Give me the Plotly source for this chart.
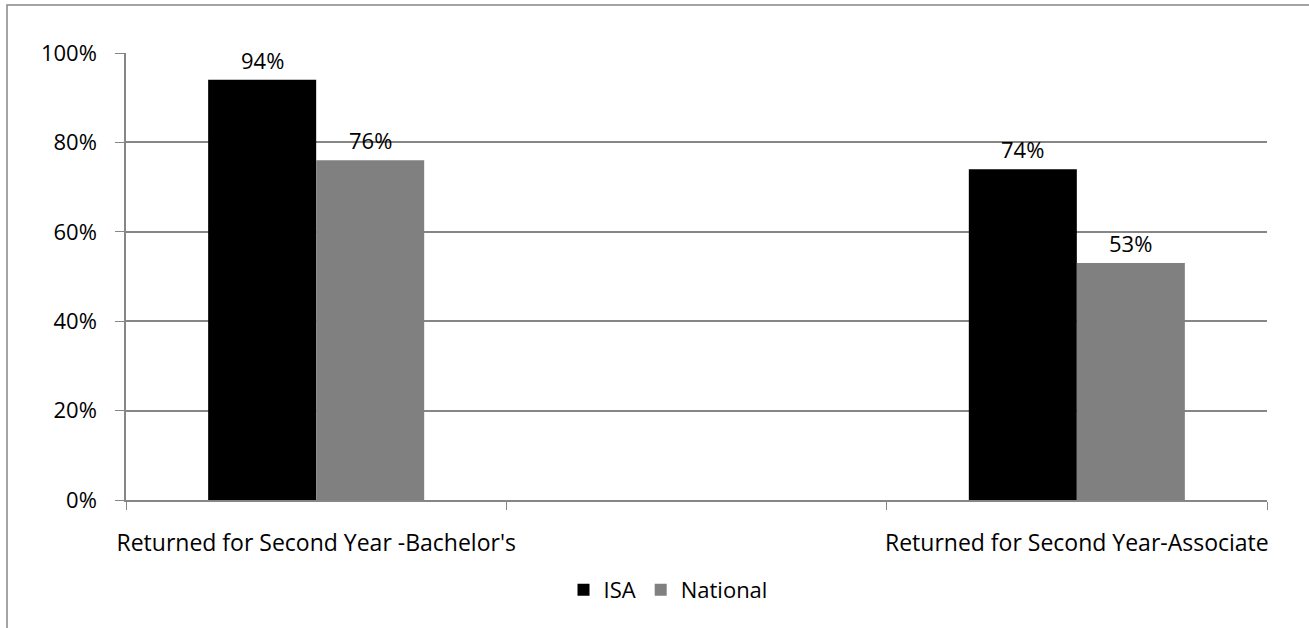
import plotly.graph_objects as go

categories = ["Returned for Second Year -Bachelor's", " ", "Returned for Second Year-Associate"]
isa_values = [94, None, 74]
national_values = [76, None, 53]
y_ticks = [0, 20, 40, 60, 80, 100]

FONT = "Open Sans"
FS = 22
GRID = "#868686"

W, H = 1309, 628
L, R, T, B = 126, 42, 53, 128
pw, ph = W - L - R, H - T - B
BAR_PX = 108  # width of one bar in pixels, used to offset value labels

def px(x):
    return (x - L) / pw

def py(y):
    return (H - B - y) / ph

fig = go.Figure()
fig.add_trace(go.Bar(name="ISA", x=categories, y=isa_values, marker_color="#000000",
                     marker_line_width=0))
fig.add_trace(go.Bar(name="National", x=categories, y=national_values, marker_color="#808080",
                     marker_line_width=0))

# value labels above each bar
annotations = []
for values, shift in ((isa_values, -BAR_PX / 2), (national_values, BAR_PX / 2)):
    for cat, v in zip(categories, values):
        if v is None:
            continue
        annotations.append(dict(
            x=cat, y=v, xref="x", yref="y", text=f"{v}%", showarrow=False,
            xshift=shift, yshift=20, yanchor="middle",
            font=dict(family=FONT, size=FS, color="#000000"),
        ))

fig.update_layout(
    width=W, height=H,
    margin=dict(l=L, r=R, t=T, b=B, autoexpand=False),
    paper_bgcolor="white", plot_bgcolor="white",
    font=dict(family=FONT, size=FS, color="#000000"),
    barmode="group", bargap=0.432, bargroupgap=0,
    showlegend=True,
    legend=dict(orientation="h", x=px(668), y=py(590), xanchor="center", yanchor="middle",
                font=dict(size=FS), traceorder="normal"),
    xaxis=dict(
        type="category", categoryorder="array", categoryarray=categories,
        tickson="boundaries", ticks="outside", ticklen=8, tickcolor=GRID,
        showline=True, linecolor=GRID, linewidth=1.5, showgrid=False,
        tickfont=dict(size=23), tickangle=0, automargin=False,
        ticklabelstandoff=22, fixedrange=True,
    ),
    yaxis=dict(
        range=[0, 100], tickvals=y_ticks, ticktext=[f"{v}%" for v in y_ticks],
        ticks="outside", ticklen=9, tickcolor=GRID,
        showline=True, linecolor=GRID, linewidth=1.5,
        showgrid=True, gridcolor=GRID, gridwidth=1.5, zeroline=False,
        tickfont=dict(size=FS), ticklabelstandoff=14, automargin=False,
    ),
    annotations=annotations,
    shapes=[dict(
        type="rect", xref="paper", yref="paper",
        x0=px(7), x1=px(1330), y0=py(650), y1=py(5),
        line=dict(color=GRID, width=1.5), fillcolor="rgba(0,0,0,0)", layer="below",
    )],
)

fig.write_html("out.html")
